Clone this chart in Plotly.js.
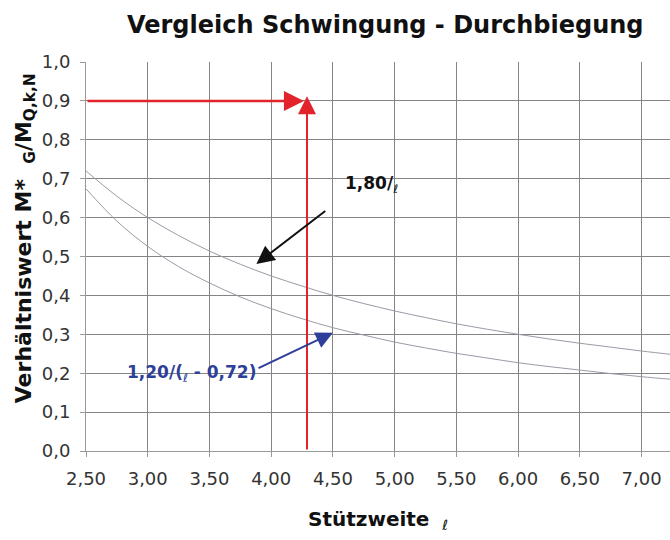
<!DOCTYPE html>
<html>
<head>
<meta charset="utf-8">
<script src="https://cdn.plot.ly/plotly-3.0.1.min.js"></script>
<style>html,body{margin:0;padding:0;background:#fff;}#chart{width:670px;height:540px;}</style>
</head>
<body>
<div id="chart"></div>
<script>
// Span values (Stützweite ℓ)
const spanX = [2.50, 2.75, 3.00, 3.25, 3.50, 3.75, 4.00, 4.25, 4.50, 4.75, 5.00, 5.25, 5.50, 5.75, 6.00, 6.25, 6.50, 6.75, 7.00, 7.25];
// Curve "1,80/ℓ"
const ratioA = [0.720, 0.655, 0.600, 0.554, 0.514, 0.480, 0.450, 0.424, 0.400, 0.379, 0.360, 0.343, 0.327, 0.313, 0.300, 0.288, 0.277, 0.267, 0.257, 0.248];
// Curve "1,20/(ℓ - 0,72)"
const ratioB = [0.674, 0.591, 0.526, 0.474, 0.432, 0.396, 0.366, 0.340, 0.317, 0.298, 0.280, 0.265, 0.251, 0.239, 0.227, 0.217, 0.208, 0.199, 0.191, 0.184];
// Reading example (red lines)
const readSpan = 4.29;
const readRatio = 0.9;
// Tick labels
const xTickVals = [2.5, 3.0, 3.5, 4.0, 4.5, 5.0, 5.5, 6.0, 6.5, 7.0];
const xTickText = ["2,50", "3,00", "3,50", "4,00", "4,50", "5,00", "5,50", "6,00", "6,50", "7,00"];
const yTickVals = [0, 0.1, 0.2, 0.3, 0.4, 0.5, 0.6, 0.7, 0.8, 0.9, 1.0];
const yTickText = ["0,0", "0,1", "0,2", "0,3", "0,4", "0,5", "0,6", "0,7", "0,8", "0,9", "1,0"];

const FONT = "DejaVu Sans, Liberation Sans, Arial, sans-serif";
const curveColor = "#9a9aa6";
const red = "#e3232b";
const blue = "#2e3f99";

const traces = [
  {x: spanX, y: ratioA, type: "scatter", mode: "lines", line: {color: curveColor, width: 1, shape: "spline"}, hoverinfo: "skip"},
  {x: spanX, y: ratioB, type: "scatter", mode: "lines", line: {color: curveColor, width: 1, shape: "spline"}, hoverinfo: "skip"}
];

const layout = {
  width: 670, height: 540,
  margin: {l: 86, r: 0, t: 62, b: 89},
  paper_bgcolor: "#ffffff", plot_bgcolor: "#ffffff",
  showlegend: false,
  font: {family: FONT, color: "#333333"},
  title: {
    text: "<b>Vergleich Schwingung - Durchbiegung</b>",
    font: {family: FONT, size: 24, color: "#111111"},
    x: 0.575, xanchor: "center", xref: "container",
    y: 0.955, yanchor: "middle", yref: "container"
  },
  xaxis: {
    range: [2.5, 7.23],
    tickvals: xTickVals, ticktext: xTickText,
    showgrid: true, gridcolor: "#858585", gridwidth: 1,
    zeroline: false,
    showline: true, linecolor: "#9a9a9a", linewidth: 1,
    ticks: "outside", ticklen: 5, tickcolor: "#9a9a9a",
    tickfont: {family: FONT, size: 18, color: "#333333"},
    ticklabelstandoff: 6
  },
  yaxis: {
    range: [0, 1.0],
    tickvals: yTickVals, ticktext: yTickText,
    showgrid: true, gridcolor: "#858585", gridwidth: 1,
    zeroline: false,
    showline: true, linecolor: "#9a9a9a", linewidth: 1,
    ticks: "outside", ticklen: 5, tickcolor: "#9a9a9a",
    tickfont: {family: FONT, size: 18, color: "#333333"},
    ticklabelstandoff: 6
  },
  annotations: [
    // y axis title
    {xref: "paper", yref: "paper", x: 0, y: 0.547, xshift: -61, xanchor: "center", yanchor: "middle",
     textangle: -90, showarrow: false,
     text: "<b>Verhältniswert M*  <sub>G</sub>/M<sub>Q,k,N</sub></b>",
     font: {family: FONT, size: 22, color: "#111111"}},
    // x axis title
    {xref: "paper", yref: "paper", x: 0.5, y: -0.177, xanchor: "center", yanchor: "middle",
     showarrow: false,
     text: "<b>Stützweite</b>  <sub><i>ℓ</i></sub>",
     font: {family: FONT, size: 20, color: "#111111"}},
    // red horizontal arrow
    {x: readSpan - 0.025, y: readRatio, ax: 2.5, ay: readRatio, xref: "x", yref: "y", axref: "x", ayref: "y",
     text: "", showarrow: true, arrowhead: 2, arrowsize: 1.6, arrowwidth: 2.5, arrowcolor: red, standoff: 0},
    // red vertical arrow
    {x: readSpan, y: readRatio + 0.012, ax: readSpan, ay: 0, xref: "x", yref: "y", axref: "x", ayref: "y",
     text: "", showarrow: true, arrowhead: 2, arrowsize: 1.8, arrowwidth: 2, arrowcolor: red, standoff: 0},
    // black arrow to 1,80/l
    {x: 3.88, y: 0.481, ax: 4.45, ay: 0.62, xref: "x", yref: "y", axref: "x", ayref: "y",
     text: "", showarrow: true, arrowhead: 2, arrowsize: 1.8, arrowwidth: 2, arrowcolor: "#111111", standoff: 0},
    {x: 4.816, y: 0.684, xref: "x", yref: "y", showarrow: false, xanchor: "center", yanchor: "middle",
     text: "<b>1,80/</b><sub><i>ℓ</i></sub>", font: {family: FONT, size: 17, color: "#111111"}},
    // blue arrow to 1,20/(l-0,72)
    {x: 4.50, y: 0.304, ax: 3.885, ay: 0.211, xref: "x", yref: "y", axref: "x", ayref: "y",
     text: "", showarrow: true, arrowhead: 2, arrowsize: 1.7, arrowwidth: 2, arrowcolor: blue, standoff: 0},
    {x: 3.358, y: 0.198, xref: "x", yref: "y", showarrow: false, xanchor: "center", yanchor: "middle",
     text: "<b>1,20/(</b><sub><i>ℓ</i></sub><b> - 0,72)</b>", font: {family: FONT, size: 17, color: blue}}
  ]
};

Plotly.newPlot("chart", traces, layout, {staticPlot: true, displayModeBar: false});
</script>
</body>
</html>
